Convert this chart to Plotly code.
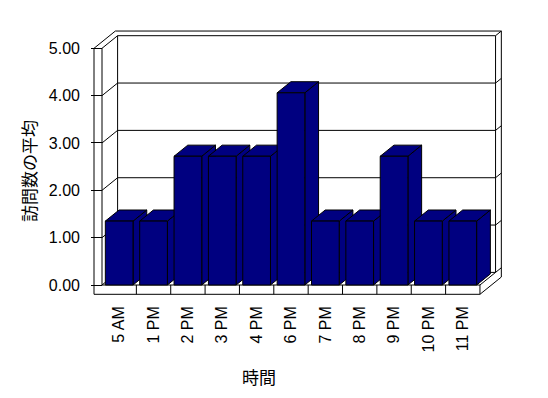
import plotly.graph_objects as go

# ---- data ----
categories = ["5 AM", "1 PM", "2 PM", "3 PM", "4 PM", "6 PM", "7 PM", "8 PM", "9 PM", "10 PM", "11 PM"]
values = [1.35, 1.35, 2.72, 2.72, 2.72, 4.06, 1.35, 1.35, 2.72, 1.35, 1.35]
y_ticks = [0, 1, 2, 3, 4, 5]
x_title = "時間"
y_title = "訪問数の平均"

# ---- style / geometry (pixel-based layout) ----
W, H = 548, 398
PL, PR, PT, PB = 91, 505, 25, 300          # plot area in pixels
X0PX, CW = 102.0, 34.36                    # px of category -0.5, px per category
Y0PX, VH = 285.0, 47.34                    # px of value 0, px per value unit
DDX = 15.6 / CW                            # depth offset (category units)
DDY = 12.6 / VH                            # depth offset (value units)
T = 0.37                                   # wall thickness (fraction of depth)
STRIP = 8.0 / CW                           # left wall thickness
FB = 9.3 / VH                              # floor thickness
BAR_W = 0.806
BAR_D = 0.88
NAVY = "#000080"
FONT = "Liberation Sans, Arial, Noto Sans CJK JP"

def cx(px):
    return (px - X0PX) / CW - 0.5

def vy(px):
    return (Y0PX - px) / VH

xr_ = [cx(PL), cx(PR)]
yr_ = [vy(PB), vy(PT)]

n = len(categories)
cL = -0.5
cR = n - 0.5
vmax = max(y_ticks)

shapes = []
def line(x0, y0, x1, y1):
    shapes.append(dict(type="line", xref="x", yref="y", x0=x0, y0=y0, x1=x1, y1=y1,
                       line=dict(color="black", width=1), layer="below"))

# gridlines on left wall + back wall + mitre on right
for v in y_ticks:
    line(cL, v, cL + DDX, v + DDY)
    line(cL + DDX, v + DDY, cR + DDX, v + DDY)
    line(cR + DDX, v + DDY, cR + DDX * (1 + T), v + DDY * (1 + T))
# back wall outer top
line(cL - STRIP, vmax, cL - STRIP + DDX * (1 + T), vmax + DDY * (1 + T))
line(cL - STRIP + DDX * (1 + T), vmax + DDY * (1 + T), cR + DDX * (1 + T), vmax + DDY * (1 + T))
# right outer vertical
line(cR + DDX * (1 + T), vmax + DDY * (1 + T), cR + DDX * (1 + T), -FB + DDY * (1 + T))
# back inner verticals
line(cL + DDX, DDY, cL + DDX, vmax + DDY)
line(cR + DDX, DDY, cR + DDX, vmax + DDY)
# left strip
line(cL - STRIP, -FB, cL - STRIP, vmax)
line(cL, 0, cL, vmax)
# floor
line(cL, 0, cR, 0)
line(cL - STRIP, -FB, cR, -FB)
line(cR, -FB, cR, 0)
line(cR, -FB, cR + DDX * (1 + T), -FB + DDY * (1 + T))
line(cR, 0, cR + DDX, DDY)
for k in range(n - 1):
    line(k + 0.5, -FB, k + 0.5, 0)

fig = go.Figure()

bx, by = DDX * BAR_D, DDY * BAR_D
for i, v in enumerate(values):
    xl, xr = i - BAR_W / 2, i + BAR_W / 2
    faces = [
        ([xr, xr, xr + bx, xr + bx, xr], [0, v, v + by, by, 0]),             # side
        ([xl, xr, xr + bx, xl + bx, xl], [v, v, v + by, v + by, v]),         # top
        ([xl, xl, xr, xr, xl], [0, v, v, 0, 0]),                             # front
    ]
    for fx, fy in faces:
        fig.add_trace(go.Scatter(x=fx, y=fy, mode="lines", fill="toself",
                                 fillcolor=NAVY, line=dict(color="black", width=1),
                                 hoverinfo="skip", showlegend=False))

def px2paper_x(px):
    return (px - PL) / (PR - PL)

def px2paper_y(py):
    return (PB - py) / (PB - PT)

fig.update_layout(
    width=W, height=H, autosize=False,
    margin=dict(l=PL, r=W - PR, t=PT, b=H - PB, pad=0),
    paper_bgcolor="white", plot_bgcolor="white",
    font=dict(family=FONT, size=16, color="black"),
    showlegend=False,
    shapes=shapes,
    xaxis=dict(range=xr_, tickmode="array", tickvals=list(range(n)), ticktext=categories,
               tickangle=-90, ticks="", showgrid=False, zeroline=False, showline=False,
               fixedrange=True, ticklabelstandoff=2),
    yaxis=dict(range=yr_, tickmode="array", tickvals=y_ticks,
               ticktext=[f"{t:.2f}" for t in y_ticks],
               ticks="inside", ticklen=11, tickcolor="black", tickwidth=1,
               showgrid=False, zeroline=False, showline=False, fixedrange=True,
               ticklabelstandoff=10),
    annotations=[
        dict(text=x_title, xref="paper", yref="paper", x=px2paper_x(259), y=px2paper_y(376),
             showarrow=False, font=dict(size=17, family="Noto Sans CJK JP"),
             xanchor="center", yanchor="middle"),
        dict(text=y_title, xref="paper", yref="paper", x=px2paper_x(28), y=px2paper_y(171),
             showarrow=False, textangle=-90, font=dict(size=17, family="Noto Sans CJK JP"),
             xanchor="center", yanchor="middle"),
    ],
)

fig.write_html("out.html")
